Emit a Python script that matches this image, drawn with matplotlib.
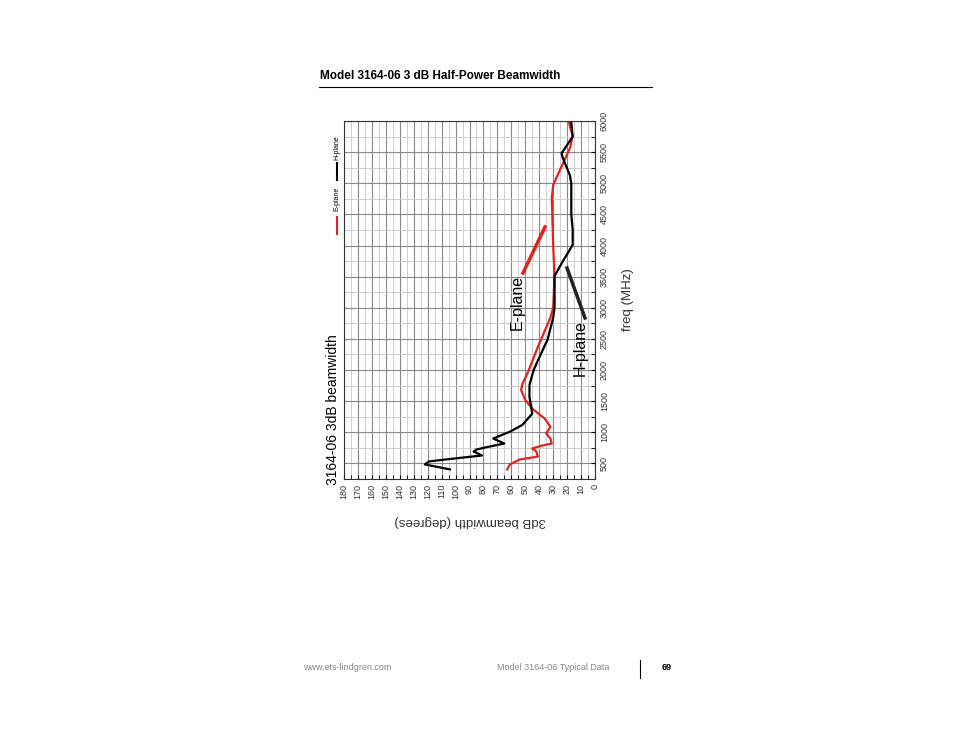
import matplotlib
matplotlib.use("Agg")
import matplotlib.pyplot as plt
import numpy as np

plt.rcParams['font.family'] = ['Liberation Sans', 'DejaVu Sans']

h_freq = [404, 484, 532, 564, 628, 691, 723, 755, 820, 900, 1010, 1120, 1300, 1570, 1760, 2000, 2200, 2490, 2840, 3000, 3510, 3750, 4010, 4250, 4500, 5000, 5130, 5400, 5480, 5750, 5970]
h_bw = [104, 122, 119, 107, 81, 87, 85, 79, 65, 73, 61, 52, 45, 47, 47, 44, 40, 34, 30, 29, 29, 23, 16, 16, 17, 17, 18, 23, 24, 16, 17]
e_freq = [404, 484, 564, 610, 690, 740, 787, 820, 900, 980, 1090, 1220, 1380, 1520, 1680, 1780, 1970, 2370, 2840, 3000, 3510, 4010, 4760, 4970, 5270, 5560, 5760, 6000]
e_bw = [63, 61, 54, 41, 42, 45, 38, 31, 32, 35, 32, 36, 45, 50, 53, 52, 48, 41, 32, 30, 29, 30, 31, 30, 24, 18, 16, 19]
x_ticks = list(range(0, 181, 10))
y_ticks = list(range(500, 6001, 500))

fig = plt.figure(figsize=(9.54, 7.38), dpi=100)
W, H = 954, 738
def fx(x): return x / W
def fy(y): return 1 - y / H

ax = fig.add_axes([fx(344), fy(479), fx(595) - fx(344), fy(121) - fy(479)])
ax.set_xlim(180, 0)
ax.set_ylim(300, 6000)
ax.set_xticks(x_ticks)
ax.set_xticklabels([str(t) for t in x_ticks], rotation=90, fontsize=6.5)
ax.set_xticks(np.arange(0, 181, 5), minor=True)
ax.yaxis.tick_right()
ax.set_yticks(y_ticks)
ax.set_yticklabels([str(t) for t in y_ticks], rotation=90, fontsize=6.5, va='center')
ax.set_yticks(np.arange(250, 6001, 250), minor=True)
ax.grid(which='major', color='#888888', lw=0.8)
ax.grid(which='minor', color='#c8c8c8', lw=0.6)
ax.tick_params(which='both', direction='in', length=3, labelcolor='#333333')
for s in ax.spines.values():
    s.set_color('#333333')

ax.plot(e_bw, e_freq, color='#e8201c', lw=1.6, solid_joinstyle='round')
ax.plot(h_bw, h_freq, color='black', lw=1.6, solid_joinstyle='round')

# annotations
fig.add_artist(plt.Line2D([fx(523), fx(545)], [fy(273), fy(227)], color='#e8201c', lw=2.5))
fig.add_artist(plt.Line2D([fx(567), fx(585)], [fy(268), fy(318)], color='#222222', lw=2.5))
fig.text(fx(517), fy(302), 'E-plane', rotation=90, fontsize=11.5, ha='center', va='center')
fig.text(fx(580), fy(348), 'H-plane', rotation=90, fontsize=11.5, ha='center', va='center')
fig.text(fx(333), fy(410), '3164-06 3dB beamwidth', rotation=90, fontsize=10, ha='center', va='center')
fig.text(fx(470), fy(521), '3dB beamwidth (degrees)', rotation=180, fontsize=9.5, ha='center', va='center', color='#333333')
fig.text(fx(628), fy(300), 'freq (MHz)', rotation=90, fontsize=9.5, ha='center', va='center', color='#333333')

# legend
fig.add_artist(plt.Line2D([fx(337), fx(337)], [fy(234), fy(217)], color='#e8201c', lw=1.5))
fig.text(fx(337), fy(199), 'E-plane', rotation=90, fontsize=5, ha='center', va='center')
fig.add_artist(plt.Line2D([fx(337), fx(337)], [fy(180), fy(163)], color='black', lw=1.5))
fig.text(fx(337), fy(148), 'H-plane', rotation=90, fontsize=5, ha='center', va='center')

# page
fig.text(fx(320), fy(76), 'Model 3164-06 3 dB Half-Power Beamwidth', fontsize=8.5, fontweight='bold', va='center')
fig.add_artist(plt.Line2D([fx(319), fx(652)], [fy(87), fy(87)], color='black', lw=0.8))
fig.text(fx(303), fy(668), 'www.ets-lindgren.com', fontsize=6.5, color='#888888', va='center')
fig.text(fx(497), fy(668), 'Model 3164-06 Typical Data', fontsize=6.5, color='#888888', va='center')
fig.add_artist(plt.Line2D([fx(640), fx(640)], [fy(660), fy(678)], color='black', lw=0.8))
fig.text(fx(662), fy(668), '69', fontsize=6.5, fontweight='bold', va='center')

fig.savefig('out.png', dpi=100)
